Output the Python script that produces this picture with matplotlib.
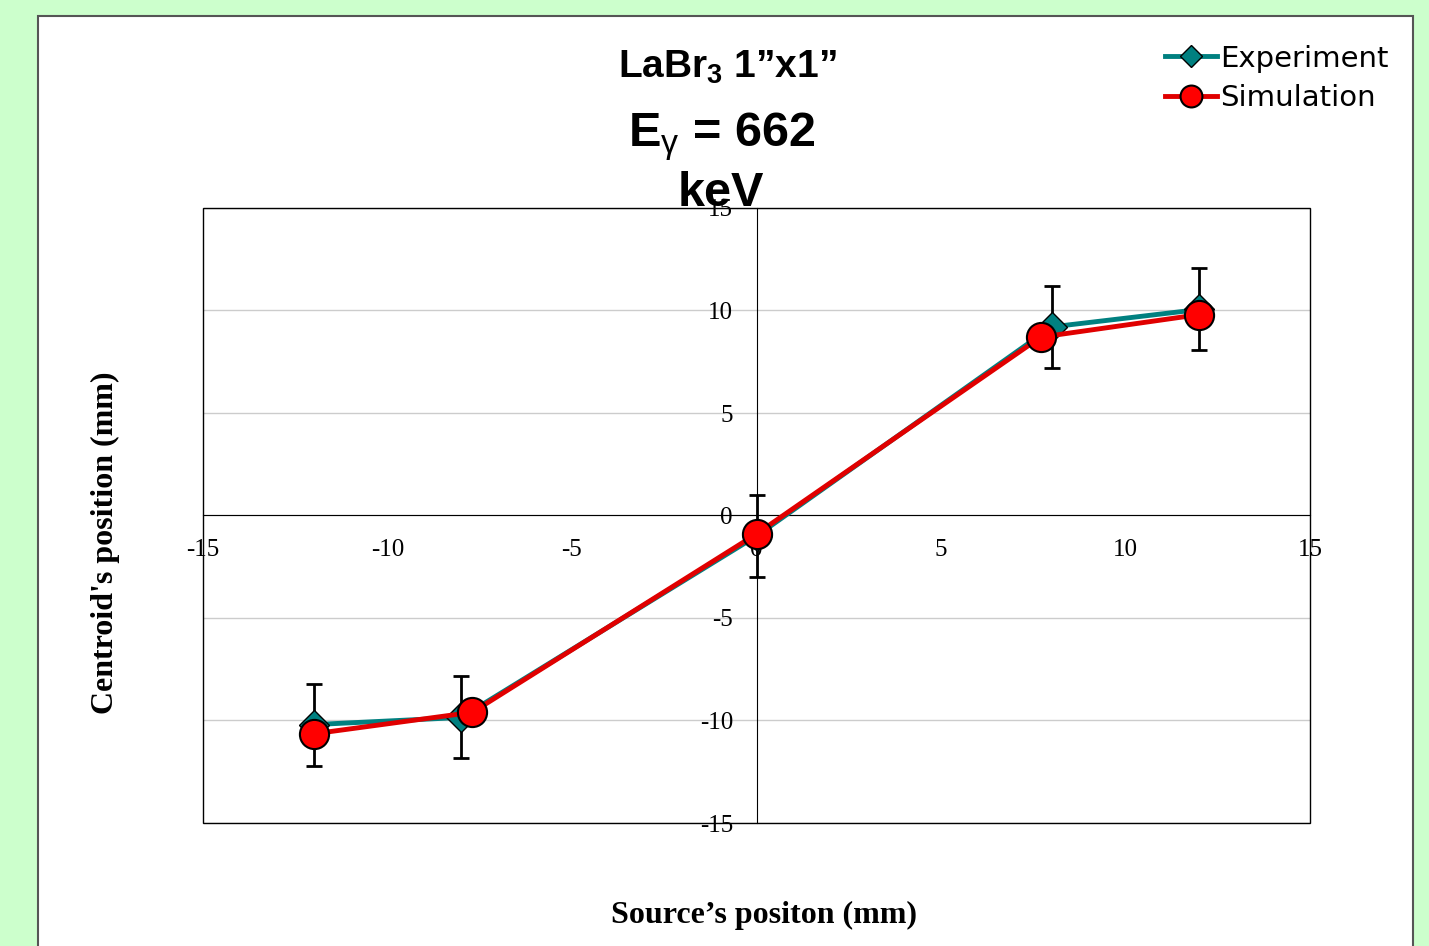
import matplotlib.pyplot as plt
from matplotlib.patches import Rectangle

plt.rcParams['mathtext.fontset'] = 'custom'
plt.rcParams['mathtext.rm'] = 'Liberation Sans'
plt.rcParams['mathtext.it'] = 'Liberation Sans:italic'
plt.rcParams['mathtext.bf'] = 'Liberation Sans:bold'

# data
exp_x = [-12, -8, 0, 8, 12]
exp_y = [-10.2, -9.85, -1.0, 9.2, 10.05]
exp_err = [2, 2, 2, 2, 2]
sim_x = [-12, -7.7, 0, 7.7, 12]
sim_y = [-10.65, -9.6, -0.9, 8.7, 9.8]
ticks = [-15, -10, -5, 0, 5, 10, 15]

fig = plt.figure(figsize=(14.29, 9.46), dpi=100)
fig.patch.set_facecolor('#CCFFCC')
fig.patches.append(Rectangle((38 / 1429, -0.05), (1413 - 38) / 1429, 1 - 16 / 946 + 0.05,
                             transform=fig.transFigure, facecolor='white',
                             edgecolor='#555555', linewidth=1.5, zorder=-1))

ax = fig.add_axes([203 / 1429, 1 - 823 / 946, (1310 - 203) / 1429, (823 - 208) / 946])
ax.set_facecolor('none')

# axes through the origin (set first, it resets the ticks)
ax.spines['left'].set_position(('data', 0))
ax.spines['bottom'].set_position(('data', 0))
ax.spines['top'].set_visible(False)
ax.spines['right'].set_visible(False)
ax.add_patch(Rectangle((0, 0), 1, 1, transform=ax.transAxes, fill=False,
                       edgecolor='black', linewidth=1, clip_on=False, zorder=1))

ax.errorbar(exp_x, exp_y, yerr=exp_err, fmt='none', ecolor='black',
            elinewidth=2, capsize=6, capthick=2, zorder=2)
ax.plot(exp_x, exp_y, color='#008080', linewidth=3.5, marker='D', markersize=15,
        markerfacecolor='#008080', markeredgecolor='black', markeredgewidth=1,
        label='Experiment', zorder=3)
ax.plot(sim_x, sim_y, color='#E00000', linewidth=3.5, marker='o', markersize=21,
        markerfacecolor='#FF0000', markeredgecolor='black', markeredgewidth=1.5,
        label='Simulation', zorder=4)

ax.set_xlim(-15, 15)
ax.set_ylim(-15, 15)
ax.set_xticks(ticks)
ax.set_yticks(ticks)
ax.set_xticklabels([str(t) for t in ticks])
ax.set_yticklabels([str(t) for t in ticks])
for lab in ax.get_xticklabels() + ax.get_yticklabels():
    lab.set_fontfamily('Liberation Serif')
    lab.set_fontsize(18)
ax.tick_params(axis='both', length=0)
ax.tick_params(axis='x', pad=17)
ax.tick_params(axis='y', pad=17)
ax.grid(axis='y', color='#CCCCCC', linewidth=1)
ax.set_axisbelow(True)

fig.legend(loc='upper left', bbox_to_anchor=(1150 / 1429, 1 - 30 / 946),
           frameon=False, prop={'family': 'DejaVu Sans', 'size': 21},
           handlelength=1.8, handletextpad=0.12, labelspacing=0.4, borderpad=0,
           markerscale=0.75)

fig.text(727 / 1429, 1 - 67 / 946, 'LaBr$_\\mathbf{3}$ 1”x1”', ha='center', va='center',
         family='Liberation Sans', fontweight='bold', fontsize=28, zorder=5)
fig.text(722 / 1429, 1 - 137 / 946, 'E$_\\mathrm{\\gamma}$ = 662', ha='center', va='center',
         family='Liberation Sans', fontweight='bold', fontsize=35, zorder=5)
fig.text(721 / 1429, 1 - 193 / 946, 'keV', ha='center', va='center',
         family='Liberation Sans', fontweight='bold', fontsize=35, zorder=5)

fig.text(105 / 1429, 1 - 543 / 946, "Centroid's position (mm)", rotation=90,
         ha='center', va='center', family='Liberation Serif', fontweight='bold', fontsize=23)
fig.text(764 / 1429, 1 - 915 / 946, 'Source’s positon (mm)', ha='center', va='center',
         family='Liberation Serif', fontweight='bold', fontsize=23)

fig.savefig('out.png', dpi=100, facecolor=fig.get_facecolor())
